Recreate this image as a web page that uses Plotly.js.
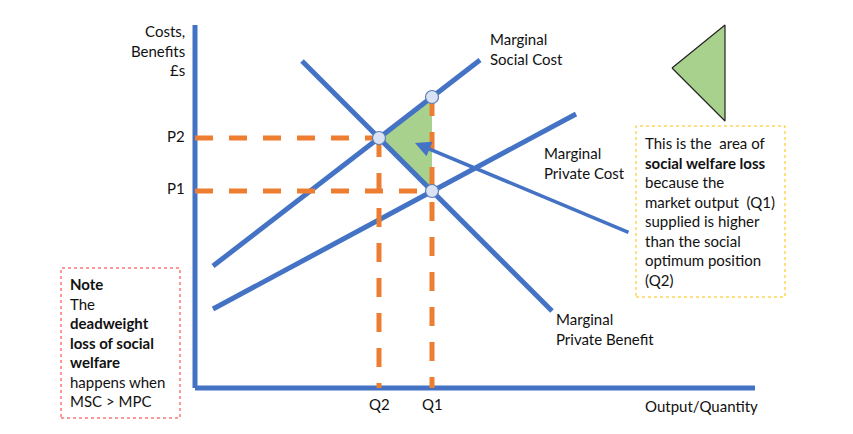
<!DOCTYPE html>
<html><head><meta charset="utf-8">
<script src="https://cdn.plot.ly/plotly-3.0.1.min.js"></script>
<style>html,body{margin:0;padding:0;background:#fff}</style>
</head><body><div id="chart" style="width:853px;height:434px"></div>
<script>
// Coordinate units: origin at the axes corner (quantity, price)
const axisXLen = 560, axisYLen = 363;
const Q2 = 184, Q1 = 237;
const P2 = 250, P1 = 197, MSCatQ1 = 291;
const mscX = [18, 285], mscY = [122, 328];
const mpcX = [18, 381], mpcY = [79, 274];
const mpbX = [107, 357], mpbY = [327, 77];
const lossX = [Q2, Q1, Q1], lossY = [P2, MSCatQ1, P1];
const keyTriX = [477, 530, 530], keyTriY = [320, 363, 267];
const pointX = [Q2, Q1, Q1], pointY = [P2, MSCatQ1, P1];
const arrowFrom = [435, 155], arrowTo = [220, 245];

const BLUE = '#4472C4', ORANGE = '#ED7D31', GREEN = '#A9D18E';
const FONT = 'Lato, "Open Sans", sans-serif';
const TXT = '#111111';

const traces = [];
function line(x, y, color, width, dash) {
  traces.push({x, y, mode: 'lines', type: 'scatter', hoverinfo: 'skip',
    line: {color, width, dash: dash || 'solid'}, showlegend: false});
}
// green welfare-loss triangle
traces.push({x: lossX, y: lossY, fill: 'toself', fillcolor: GREEN, mode: 'lines',
  line: {width: 0, color: GREEN}, showlegend: false, hoverinfo: 'skip'});
// key triangle
traces.push({x: keyTriX.concat([keyTriX[0]]), y: keyTriY.concat([keyTriY[0]]), fill: 'toself', fillcolor: GREEN, mode: 'lines',
  line: {width: 1.2, color: '#222'}, showlegend: false, hoverinfo: 'skip'});
// axes
line([0, 0], [0, axisYLen], BLUE, 5);
line([0, axisXLen], [0, 0], BLUE, 5);
// curves
line(mscX, mscY, BLUE, 5);
line(mpcX, mpcY, BLUE, 5);
line(mpbX, mpbY, BLUE, 5);
// dashed guides
const hDash = '18px,16px', vDash = '19px,16px';
line([0, Q2], [P2, P2], ORANGE, 5, hDash);
line([0, Q1], [P1, P1], ORANGE, 5, hDash);
line([Q2, Q2], [P2, 0], ORANGE, 5, vDash);
line([Q1, Q1], [MSCatQ1, 0], ORANGE, 5, vDash);
// points
traces.push({x: pointX, y: pointY, mode: 'markers', type: 'scatter', hoverinfo: 'skip',
  marker: {size: 13, color: '#DAE3F3', line: {color: '#5B7DB8', width: 1.2}}, showlegend: false});

function ann(x, y, text, xanchor, align, extra) {
  return Object.assign({x, y, xref: 'x', yref: 'y', text, showarrow: false,
    xanchor, yanchor: 'middle', align, font: {family: FONT, size: 15, color: TXT}}, extra || {});
}
const annotations = [
  ann(-8, 338, 'Costs,<br>Benefits<br>£s', 'right', 'right'),
  ann(-8, 252, 'P2', 'right', 'right'),
  ann(-8, 200, 'P1', 'right', 'right'),
  ann(Q2, -16, 'Q2', 'center', 'center'),
  ann(Q1, -16, 'Q1', 'center', 'center'),
  ann(448, -18, 'Output/Quantity', 'left', 'left'),
  ann(293, 339, 'Marginal<br>Social Cost', 'left', 'left'),
  ann(347, 225, 'Marginal<br>Private Cost', 'left', 'left'),
  ann(359, 59.5, 'Marginal<br>Private Benefit', 'left', 'left'),
  ann(448, 176.5, 'This is the  area of<br><b>social welfare loss</b><br>because the<br>market output  (Q1)<br>supplied is higher<br>than the social<br>optimum position<br>(Q2)', 'left', 'left'),
  ann(-127, 45.5, '<b>Note</b><br>The<br><b>deadweight</b><br><b>loss of social</b><br><b>welfare</b><br>happens when<br>MSC &gt; MPC', 'left', 'left'),
  {x: arrowTo[0], y: arrowTo[1], ax: arrowFrom[0], ay: arrowFrom[1], xref: 'x', yref: 'y',
   axref: 'x', ayref: 'y', showarrow: true, arrowhead: 2, arrowsize: 0.9, arrowwidth: 3.5,
   arrowcolor: BLUE, text: ''}
];
const shapes = [
  {type: 'rect', xref: 'x', yref: 'y', x0: 441, x1: 590, y0: 91, y1: 262,
   line: {color: '#FFC000', width: 1, dash: 'dot'}},
  {type: 'rect', xref: 'x', yref: 'y', x0: -134, x1: -15, y0: -30, y1: 120,
   line: {color: '#FF3333', width: 1, dash: 'dot'}}
];
const layout = {
  width: 853, height: 434, margin: {l: 0, r: 0, t: 0, b: 0},
  paper_bgcolor: '#fff', plot_bgcolor: '#fff', showlegend: false,
  xaxis: {range: [-195, 658], visible: false, fixedrange: true},
  yaxis: {range: [-46, 388], visible: false, fixedrange: true},
  annotations, shapes
};
Plotly.newPlot('chart', traces, layout, {displayModeBar: false, staticPlot: true});
</script></body></html>
